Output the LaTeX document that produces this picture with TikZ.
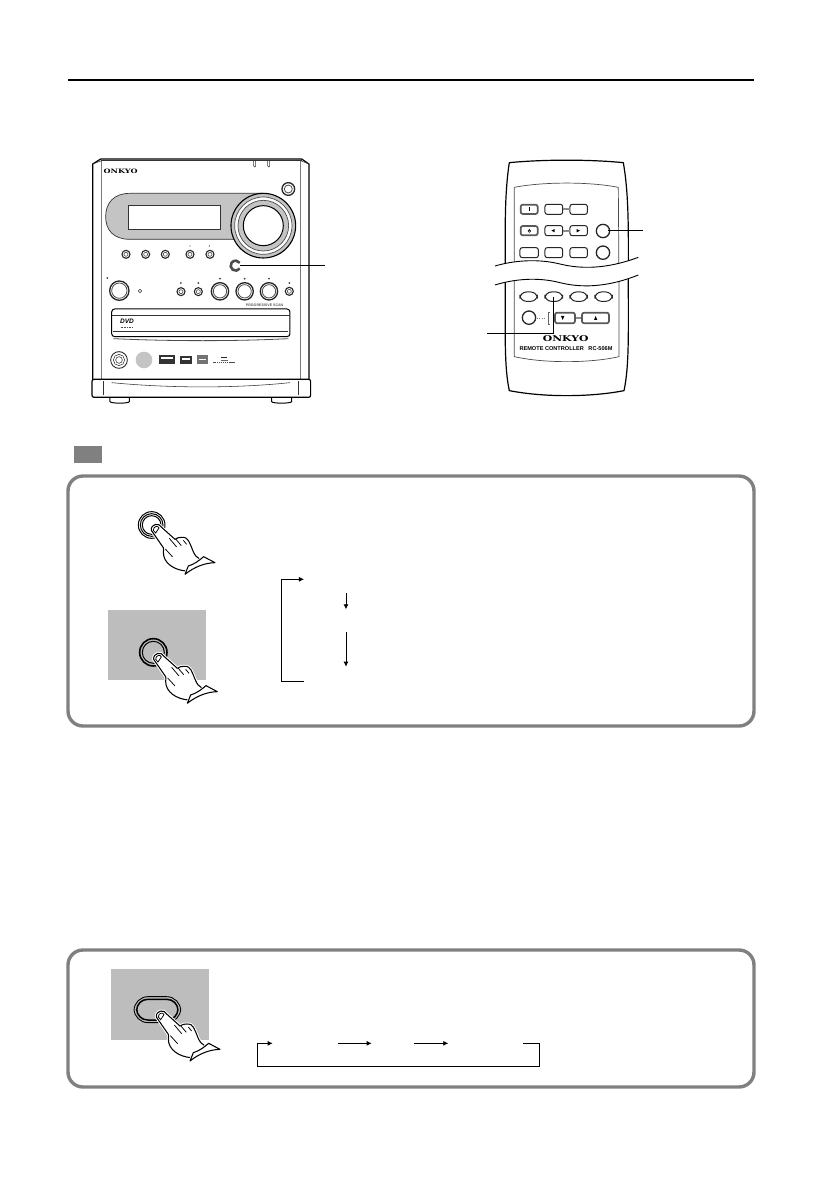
\documentclass[tikz,border=0pt]{standalone}
\usepackage{fontspec}
\setmainfont{Liberation Sans}
\newfontfamily\logofont[FakeStretch=1.35]{DejaVu Serif}
\usetikzlibrary{arrows.meta}
\definecolor{framegrey}{HTML}{808080}
\definecolor{shadegrey}{HTML}{BDBDBD}
\definecolor{panelgrey}{HTML}{C4C4C4}
\tikzset{
  frame/.style={draw=framegrey,line width=3.4pt,rounded corners=15pt,fill=white},
  leader/.style={draw=black,line width=1pt},
  flow/.style={draw=black,line width=.8pt,-{Latex[length=5pt,width=5pt]}},
  body/.style={draw=black,line width=1pt,line join=round},
  thin part/.style={draw=black!80,line width=.55pt},
  knob/.style={draw=black!85,line width=1.1pt,fill=white},
  ring/.style={draw=black!70,line width=.8pt},
  rbutton/.style={draw=black!85,line width=1pt,fill=white,rounded corners=2.2pt},
  pillbutton/.style={draw=black!85,line width=1pt,fill=white,rounded corners=6.5pt},
  hand/.pic={
    \path[fill=white,preaction={draw=white,line width=3pt},draw=black,line width=1.05pt,line join=round]
      (-14,6) .. controls (-16,-14) and (10,-18) .. (17,-3)
      -- (57,33) .. controls (63,28) and (70,27) .. (77,27)
      .. controls (88,26) and (95,31) .. (98,38)
      .. controls (104,50) and (108,60) .. (111,68)
      .. controls (116,80) and (122,88) .. (132,93)
      -- (90,128) .. controls (55,125) and (22,105) .. (22,72)
      .. controls (22,66) and (24,62) .. (22,58) -- cycle;
    \path[fill=white,preaction={draw=white,line width=2.5pt},draw=black,line width=1.05pt,line join=round]
      (87,138) -- (97,113) .. controls (115,108) and (130,96) .. (143,85)
      -- (177,103) .. controls (145,104) and (115,116) .. (87,138) -- cycle;
    \draw[black,line width=.75pt] (-8,6) .. controls (-8,-7) and (7,-9) .. (9,-1) -- (-1,14) -- cycle;
    \draw[black,line width=.75pt] (40,30) -- (62,56) (60,33) -- (76,52) (82,36) -- (92,48) (28,62) -- (50,86);
  }
}
\begin{document}
\begin{tikzpicture}[x=1pt,y=-1pt]
\useasboundingbox[fill=white] (0,0) rectangle (840,1192);
% header rule
\coordinate (ruleL) at (68,80); \coordinate (ruleR) at (754,80);
\draw[black,line width=2pt] (ruleL) -- (ruleR);
% ================= device
\begin{scope}[shift={(70pt,-140pt)},x=.3333pt,y=-.3333pt]
  % feet
  \draw[body,fill=white] (120,770) -- (120,785) .. controls (122,791) and (176,791) .. (178,785) -- (178,770);
  \draw[body,fill=white] (605,770) -- (605,785) .. controls (607,791) and (663,791) .. (665,785) -- (665,770);
  % case
  \draw[body,line width=1.2pt,fill=white] (68,720) -- (68,72) -- (92,57) -- (695,57) -- (717,72) -- (717,720);
  \draw[thin part] (95,62) -- (95,720) (692,62) -- (692,720) (68,72) -- (95,62) (692,62) -- (717,72);
  \draw[thin part] (92,62) -- (695,62);
  \draw[thin part] (551,62) -- (551,78) arc (180:0:3) -- (557,62);
  \draw[thin part] (593,62) -- (593,78) arc (180:0:3) -- (599,62);
  \node[inner sep=0pt] (onkyo1) at (152,94) {\logofont\bfseries\fontsize{6}{6}\selectfont ONKYO};
  % panel
  \path[fill=panelgrey,draw=black!80,line width=.7pt] (180,160) -- (580,160)
     -- (580,298) -- (180,298) .. controls (130,298) and (107,270) .. (107,230) .. controls (107,190) and (130,160) .. (180,160) -- cycle;
  \draw[fill=white,draw=black!80,line width=.7pt] (175,195) rectangle (452,267);
  \draw[fill=panelgrey,draw=black,line width=1.1pt] (580,257) circle (97);
  \draw[fill=white,draw=black!70,line width=.7pt] (580,257) circle (86);
  \draw[fill=panelgrey,draw=black!70,line width=.7pt] (580,257) circle (76);
  \draw[fill=white,draw=black,line width=1pt] (580,257) circle (60);
  \draw[knob,line width=1.3pt] (655,147) circle (19);
  \draw[ring] (655,147) circle (12);
  \foreach \bx in {168,227,286,360,420} {
    \draw[knob] (\bx,343) circle (12); \draw[ring,line width=.6pt] (\bx,343) circle (6);
  }
  \fill[black!70] (360,318) circle (2.2); \fill[black!70] (418,318) circle (2.2);
  % input button
  \draw[black!70,line width=2.6pt] (497,377) ++(35:15) arc (35:325:15);
  \coordinate (devbtn) at (510,377); \coordinate (devlead) at (765,377);
  % row 2
  \foreach \bx/\by/\br in {148/452/29,450/454/26,524/454/26,597/454/26} {
    \draw[knob,line width=1.3pt] (\bx,\by) circle (\br); \draw[ring] (\bx,\by) circle (\br-6);
  }
  \foreach \bx/\by in {333/455,385/455,658/454} {
    \draw[knob] (\bx,\by) circle (12); \draw[ring,line width=.6pt] (\bx,\by) circle (6);
  }
  \draw[thin part] (210,453) circle (5);
  \foreach \bx/\by in {112/414,333/429,385/429,450/416,524/416,597/416,658/429} { \fill[black!75] (\bx,\by) circle (3); }
  \node[text=black!65,inner sep=0pt] (progscan) at (584,497) {\fontsize{3.6}{4}\selectfont\bfseries PROGRESSIVE SCAN};
  % tray
  \draw[draw=black,line width=1pt,rounded corners=3pt,fill=white] (125,507) rectangle (660,590);
  \draw[thin part] (125,525) -- (660,525) (130,575) -- (655,575);
  \draw[draw=black!70,line width=.8pt] (130,596) .. controls (300,604) and (500,604) .. (655,596);
  \node[inner sep=0pt] (dvdlogo) at (171,544) {\fontsize{6.5}{6}\selectfont\bfseries\itshape DVD};
  \draw[black!70,line width=.6pt,dash pattern=on 1pt off .6pt] (152,563) -- (188,563);
  % bottom row
  \draw[knob,line width=.9pt] (147,660) circle (25); \draw[thin part] (147,660) circle (17);\draw[thin part] (147,660) circle (10);
  \fill[panelgrey] (222,660) circle (25);
  \fill[black!80] (266,646) rectangle (316,671); \fill[white] (272,651) rectangle (310,657);
  \fill[black!80] (331,649) rectangle (366,671); \fill[white] (336,653) rectangle (361,659);
  \fill[black!55] (382,644) rectangle (414,671); \fill[white] (388,658) rectangle (408,660);
  \fill[black!85] (454,650) rectangle (472,654);
  \draw[black!70,line width=.7pt,dash pattern=on 1.2pt off .7pt] (430,668) -- (498,668);
  \draw[black!60,line width=.7pt] (452,660) -- (474,660);
  % base
  \draw[body,line width=1.2pt,fill=white,rounded corners=2pt] (66,718) rectangle (722,772);
  \draw[thin part] (100,724) -- (100,766) (685,724) -- (685,766);
  \draw[thin part] (125,728) .. controls (300,745) and (500,745) .. (660,728);
  \draw[leader] (devbtn) -- (devlead);
\end{scope}
% ================= remote
\begin{scope}[shift={(470pt,-150pt)},x=.3333pt,y=-.3333pt]
  \draw[body,line width=1.2pt,fill=white] (118,38) .. controls (220,28) and (360,28) .. (460,38)
     .. controls (478,140) and (475,260) .. (475,400) .. controls (475,540) and (478,650) .. (462,722)
     .. controls (360,742) and (220,742) .. (118,722) .. controls (102,650) and (106,540) .. (106,400)
     .. controls (106,260) and (102,140) .. (118,38) -- cycle;
  \draw[draw=black!70,line width=.7pt] (133,112) .. controls (220,95) and (360,95) .. (445,112) -- (447,400) -- (447,620)
     .. controls (360,640) and (220,640) .. (133,620) -- (133,112);
  % buttons
  \foreach \xa/\xb/\yy in {225/278/178,300/352/178,225/278/242,300/352/242,150/205/308,225/278/308,300/352/308} {
    \draw[rbutton] (\xa,\yy-15) rectangle (\xb,\yy+15);
  }
  \fill[black!45] (278,175) rectangle (300,181);
  \fill[black!45] (278,239) rectangle (300,245);
  \draw[rbutton,draw=black!65,line width=1.7pt] (152,164) rectangle (203,192);
  \draw[black,line width=.7pt] (178,172) -- (178,184);
  \draw[rbutton,draw=black!65,line width=1.7pt] (152,228) rectangle (203,256);
  \draw[black,line width=.5pt] (178,243) circle (4) (178,237) -- (178,243);
  \fill[black] (254,237) -- (244,242) -- (254,247) -- cycle;
  \fill[black] (320,237) -- (330,242) -- (320,247) -- cycle;
  \draw[knob,line width=1.3pt] (399,243) circle (20);
  \draw[knob,line width=1.3pt] (399,308) circle (20);
  % torn band
  \path[fill=white] (60,352) .. controls (130,332) and (200,322) .. (270,342)
     .. controls (350,362) and (430,352) .. (520,318) -- (520,372)
     .. controls (430,405) and (350,418) .. (270,398) .. controls (200,378) and (130,385) .. (60,409) -- cycle;
  \draw[black,line width=.9pt] (75,348) .. controls (130,332) and (200,325) .. (270,342) .. controls (350,362) and (430,350) .. (505,322);
  \draw[black,line width=.9pt] (75,405) .. controls (130,388) and (200,380) .. (270,398) .. controls (350,418) and (430,405) .. (505,375);
  % lower buttons
  \foreach \xa/\xb in {150/202,225/278,300/352,375/427} {
    \draw[pillbutton] (\xa,426) rectangle (\xb,454);
  }
  \draw[knob,line width=1.3pt] (177,503) circle (20);
  \draw[black!50,line width=.6pt,dotted] (200,505) -- (230,505);
  \draw[black!60,line width=1.5pt] (240,488) -- (235,488) -- (235,524) -- (240,524);
  \fill[black!45] (315,501) rectangle (336,508);
  \draw[rbutton,draw=black!65,line width=1.7pt] (255,488) rectangle (315,520);
  \draw[rbutton,draw=black!65,line width=1.7pt] (336,488) rectangle (417,520);
  \fill[black] (273,498) -- (283,498) -- (278,510) -- cycle;
  \fill[black] (372,510) -- (382,510) -- (377,498) -- cycle;
  \node[inner sep=0pt] (onkyo2) at (287,566) {\logofont\bfseries\fontsize{8}{8}\selectfont ONKYO};
  \node[inner sep=0pt] (rclabel) at (288,597) {\fontsize{5.6}{6}\selectfont\bfseries REMOTE CONTROLLER\hspace{3pt} RC-506M};
  \coordinate (rcA) at (415,243); \coordinate (rcAend) at (520,243);
  \coordinate (rcB) at (250,440); \coordinate (rcBbend) at (250,550); \coordinate (rcBend) at (50,550);
  \draw[leader] (rcA) -- (rcAend);
  \draw[leader] (rcB) -- (rcBbend) -- (rcBend);
\end{scope}
% ================= grey tag
\path[fill=framegrey] (74,446) rectangle (102,463);
% ================= frame 1
\draw[frame] (68,476) rectangle (754,726);
\begin{scope}[shift={(60pt,-440pt)},x=.3333pt,y=-.3333pt]
  \fill[shadegrey] (144,510) rectangle (438,720);
  \draw[black,line width=1pt] (275,255) circle (40);
  \draw[black,line width=1pt] (275,255) circle (34);
  \draw[black,line width=1pt] (275,255) circle (28);
  \pic at (288,265) {hand};
  \draw[black,line width=1.6pt] (280,637) circle (41);
  \draw[black,line width=1pt] (280,637) circle (33);
  \pic at (295,652) {hand};
  \coordinate (brA) at (732,418); \coordinate (brB) at (664,418); \coordinate (brC) at (664,724); \coordinate (brD) at (732,724);
  \draw[flow] (brD) -- (brC) -- (brB) -- (brA);
  \coordinate (a1) at (858,458); \coordinate (a2) at (858,508);
  \coordinate (a3) at (858,577); \coordinate (a4) at (858,680);
  \draw[flow] (a1) -- (a2);
  \draw[flow] (a3) -- (a4);
\end{scope}
% ================= frame 2
\draw[frame] (68,950) rectangle (754,1087);
\begin{scope}[shift={(60pt,-940pt)},x=.3333pt,y=-.3333pt]
  \fill[shadegrey] (153,87) rectangle (447,300);
  \draw[black,line width=.9pt,rounded corners=14pt] (222,170) rectangle (362,248);
  \draw[black,line width=1.5pt,rounded corners=11pt] (230,178) rectangle (354,240);
  \pic at (303,225) {hand};
  \coordinate (f1) at (1390,310); \coordinate (f2) at (1438,310); \coordinate (f3) at (1438,380); \coordinate (f4) at (592,380); \coordinate (f5) at (592,310); \coordinate (f6) at (638,310);
  \draw[flow] (f1) -- (f2) -- (f3) -- (f4) -- (f5) -- (f6);
  \coordinate (g1) at (834,310); \coordinate (g2) at (935,310);
  \coordinate (h1) at (1062,310); \coordinate (h2) at (1165,310);
  \draw[flow] (g1) -- (g2);
  \draw[flow] (h1) -- (h2);
\end{scope}
\end{tikzpicture}
\end{document}
